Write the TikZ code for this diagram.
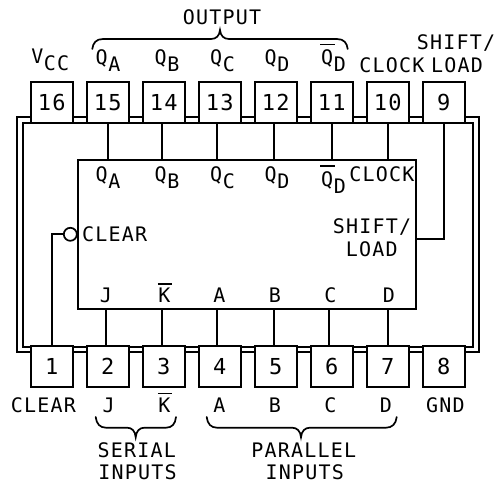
\documentclass[tikz,border=0pt]{standalone}
\usepackage{fontspec}
\setmainfont{DejaVu Sans Mono}[LetterSpace=6]
\newcommand\lbsub[1]{\kern0.5pt\raisebox{-7pt}{#1}}
\newcommand\lbbar[1]{\leavevmode\rlap{\kern-1pt\rule[20pt]{15pt}{1.3pt}}#1}
\newcommand\lbbarsm[1]{\leavevmode\rlap{\kern-0.5pt\rule[18pt]{14.5pt}{1.3pt}}#1}
\tikzset{
  line/.style={line width=1.7pt},
  boxline/.style={line width=1.7pt,draw,inner sep=0pt},
  pinbox/.style={boxline,fill=white,minimum width=42pt,minimum height=41pt,
    font=\fontsize{22}{22}\selectfont,text height=16pt,text depth=0pt},
  lbl/.style={anchor=base,inner sep=0pt,font=\fontsize{20}{20}\selectfont},
  brace/.style={line width=1.7pt,line cap=round}
}
\begin{document}
\begin{tikzpicture}[x=1pt,y=-1pt]
\useasboundingbox[fill=white] (0,0) rectangle (496,487);
% package outlines
\node[boxline,minimum width=461.7pt,minimum height=234.4pt] (pkgouter) at (247.85,234.5) {};
\node[boxline,minimum width=450.3pt,minimum height=224pt] (pkginner) at (247.85,234.7) {};
% chip
\node[boxline,minimum width=338.3pt,minimum height=149.6pt] (chip) at (246.85,234.5) {};
% pins top
\foreach \n/\x in {16/51.7,15/107.7,14/163.7,13/219.7,12/275.7,11/331.8,10/387.8,9/443.8}
  \node[pinbox] (p\n) at (\x,102.2) {\n};
% pins bottom
\foreach \n/\x in {1/51.7,2/107.7,3/163.7,4/219.7,5/275.7,6/331.8,7/387.8,8/443.8}
  \node[pinbox] (p\n) at (\x,366.8) {\n};
% bubble
\node[boxline,circle,minimum size=13pt] (bub) at (70.3,234.3) {};
% connectors
\foreach \n/\x in {15/108,14/161.7,13/217.3,12/273.7,11/331.7,10/387.7}
  \draw[line] (\x,122.7) -- (\x,159.7);
\foreach \n/\x in {2/105.7,3/161.7,4/217.3,5/273.7,6/329.3,7/387.7}
  \draw[line] (\x,309.3) -- (\x,346.7);
\coordinate (slin) at (416,239.3);
\draw[line] (p9.south) |- (slin);
\draw[line] (bub.west) -| (p1.north);
% braces
\draw[brace] (92.3,49) .. controls (93,43) and (96,39) .. (103,39) -- (211,39)
  .. controls (216,39) and (219.5,36) .. (220,30)
  .. controls (220.5,36) and (224,39) .. (229,39) -- (337,39)
  .. controls (344,39) and (347,43) .. (347.7,49);
\draw[brace] (95.7,417) .. controls (96.5,424) and (100,427.7) .. (106,427.7) -- (127,427.7)
  .. controls (132,427.7) and (135.2,431) .. (135.7,437.3)
  .. controls (136.2,431) and (139.5,427.7) .. (144.5,427.7) -- (166,427.7)
  .. controls (172,427.7) and (175.3,424) .. (176,417);
\draw[brace] (206.7,417) .. controls (207.5,424) and (211,427.7) .. (217,427.7) -- (292,427.7)
  .. controls (297,427.7) and (300.5,431) .. (301,437.3)
  .. controls (301.5,431) and (305,427.7) .. (310,427.7) -- (386,427.7)
  .. controls (392,427.7) and (396,424) .. (396.7,417);
% top labels
\node[lbl] (tout) at (222,25) {OUTPUT};
\node[lbl] (tvcc) at (50.3,63.3) {V\lbsub{CC}};
\node[lbl] (tqa) at (108,65) {Q\lbsub{A}};
\node[lbl] (tqb) at (167,65) {Q\lbsub{B}};
\node[lbl] (tqc) at (222.5,65) {Q\lbsub{C}};
\node[lbl] (tqd) at (277,65) {Q\lbsub{D}};
\node[lbl] (tqn) at (333.5,65) {\lbbar{Q}\lbsub{D}};
\node[lbl] (tclk) at (391.8,72.7) {CLOCK};
\node[lbl] (tsh) at (456,50) {SHIFT/};
\node[lbl] (tld) at (457,72.7) {LOAD};
% chip labels
\node[lbl] (iqa) at (108,181.7) {Q\lbsub{A}};
\node[lbl] (iqb) at (167,181.7) {Q\lbsub{B}};
\node[lbl] (iqc) at (222.5,181.7) {Q\lbsub{C}};
\node[lbl] (iqd) at (277,181.7) {Q\lbsub{D}};
\node[lbl] (iqn) at (333.5,186.7) {\lbbar{Q}\lbsub{D}};
\node[lbl] (iclk) at (381.8,181.7) {CLOCK};
\node[lbl] (iclr) at (114.7,241.7) {CLEAR};
\node[lbl] (ish) at (372,233.3) {SHIFT/};
\node[lbl] (ild) at (371.8,256.7) {LOAD};
\node[lbl] (ij) at (106,302.7) {J};
\node[lbl] (ik) at (164.5,302.7) {\lbbarsm{K}};
\node[lbl] (ia) at (219.5,302.7) {A};
\node[lbl] (ib) at (275,302.7) {B};
\node[lbl] (ic) at (330.5,302.7) {C};
\node[lbl] (id) at (389,302.7) {D};
% bottom labels
\node[lbl] (bclr) at (43.5,412.3) {CLEAR};
\node[lbl] (bj) at (108.7,412.3) {J};
\node[lbl] (bk) at (164.5,412.3) {\lbbarsm{K}};
\node[lbl] (ba) at (219.5,412.3) {A};
\node[lbl] (bb) at (275,412.3) {B};
\node[lbl] (bc) at (330.5,412.3) {C};
\node[lbl] (bd) at (386,412.3) {D};
\node[lbl] (bg) at (445.5,412.3) {GND};
\node[lbl] (bs1) at (136.7,457.3) {SERIAL};
\node[lbl] (bs2) at (137.5,479.3) {INPUTS};
\node[lbl] (bp1) at (303.7,457.3) {PARALLEL};
\node[lbl] (bp2) at (304.7,479.3) {INPUTS};
\end{tikzpicture}
\end{document}
